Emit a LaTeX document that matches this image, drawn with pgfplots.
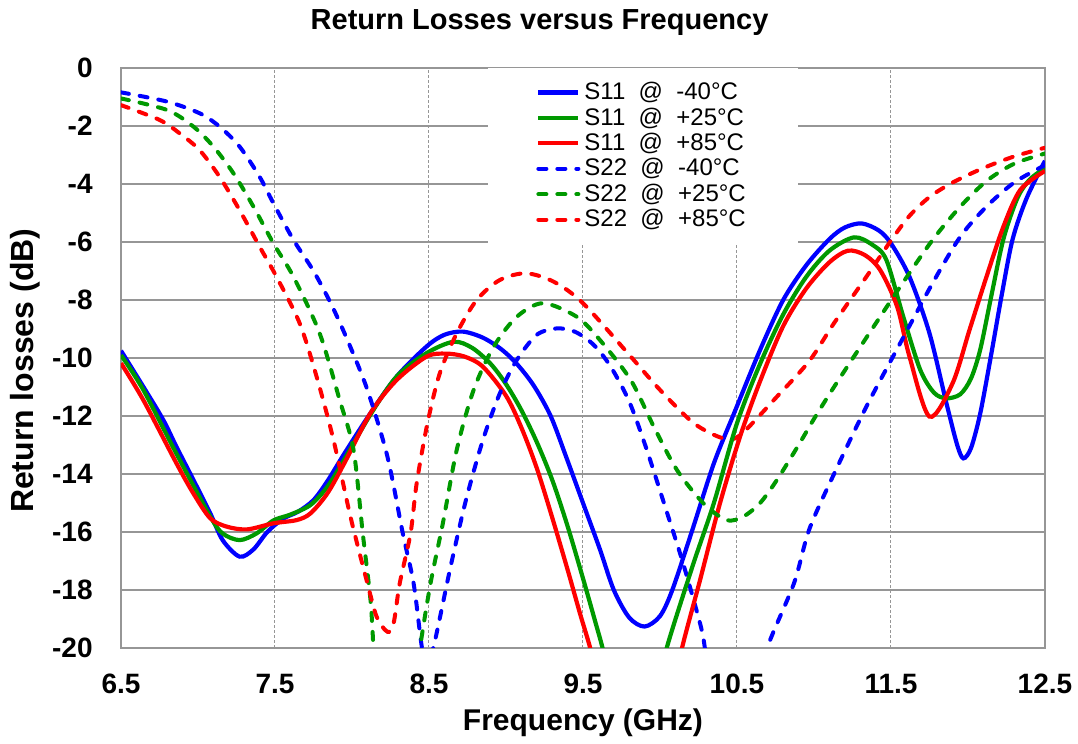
\documentclass[border=0pt]{standalone}
\usepackage{fontspec}
\setmainfont{Liberation Sans}
\usepackage{pgfplots}
\pgfplotsset{compat=1.18}

\definecolor{cblue}{RGB}{0,0,255}
\definecolor{cgreen}{RGB}{0,153,0}
\definecolor{cred}{RGB}{255,0,0}
\definecolor{gridgray}{RGB}{150,150,150}

\pgfplotsset{
  s11/.style={line width=2.1pt, smooth, no markers},
  s22/.style={line width=2.0pt, smooth, no markers, line cap=round, dash pattern=on 4pt off 5.5pt},
}

\begin{document}
\begin{tikzpicture}
\path[use as bounding box] (-60.5pt,-48pt) rectangle (478.5pt,324pt);
\begin{axis}[
  scale only axis,
  width=462pt, height=290pt,
  xmin=6.5, xmax=12.5, ymin=-20, ymax=0,
  xtick={6.5,7.5,8.5,9.5,10.5,11.5,12.5},
  xticklabels={6.5,7.5,8.5,9.5,10.5,11.5,12.5},
  ytick={-20,-18,-16,-14,-12,-10,-8,-6,-4,-2,0},
  yticklabels={-20,-18,-16,-14,-12,-10,-8,-6,-4,-2,0},
  xmajorgrids, ymajorgrids,
  x grid style={gridgray, line width=0.5pt, dash pattern=on 1.5pt off 1pt},
  y grid style={gridgray, line width=0.8pt},
  axis line style={gridgray, line width=0.8pt},
  tick style={gridgray},
  major tick length=0pt,
  ticklabel style={font=\bfseries\fontsize{14}{16}\selectfont, inner sep=0pt},
  xticklabel style={anchor=base, yshift=-23pt},
  yticklabel style={anchor=east, xshift=-14pt},
  title={Return Losses versus Frequency},
  title style={at={(axis description cs:0.453,1.045)}, anchor=base,
    font=\bfseries\fontsize{14.5}{16}\selectfont},
  xlabel={Frequency (GHz)},
  xlabel style={at={(axis description cs:0.5,-0.1414)}, anchor=base,
    font=\bfseries\fontsize{15}{17}\selectfont},
  ylabel={Return losses (dB)},
  ylabel style={at={(axis description cs:-0.0942,0.478)}, anchor=base,
    font=\bfseries\fontsize{16}{18}\selectfont},
  legend cell align=left,
  legend image code/.code={\draw[#1] (0pt,0pt) -- (20pt,0pt);},
  legend style={at={(axis description cs:0.565,1)}, anchor=north,
    draw=none, fill=white, inner xsep=24pt, inner ysep=5pt,
    font=\fontsize{12}{13}\selectfont, row sep=-1.5pt},
]

% S11 @ -40C
\addplot[s11, cblue] coordinates {
  (6.5,-9.75) (6.645,-10.99) (6.775,-12.14) (6.86,-13.06) (6.97,-14.2)
  (7.08,-15.36) (7.16,-16.28) (7.27,-16.85) (7.36,-16.6) (7.45,-16.0)
  (7.55,-15.55) (7.65,-15.3) (7.75,-14.9) (7.84,-14.25) (7.95,-13.3)
  (8.12,-11.9) (8.29,-10.64) (8.485,-9.6) (8.6,-9.2) (8.72,-9.09)
  (8.85,-9.3) (8.97,-9.7) (9.07,-10.2) (9.18,-10.95) (9.29,-12.0)
  (9.39,-13.4) (9.5,-15.0) (9.61,-16.6) (9.70,-18.0) (9.8,-18.95)
  (9.90,-19.26) (10.0,-18.9) (10.08,-18.0) (10.21,-15.93) (10.35,-13.63)
  (10.49,-11.79) (10.65,-9.72) (10.8,-8.0) (10.95,-6.8) (11.1,-5.9)
  (11.2,-5.5) (11.31,-5.36) (11.42,-5.6) (11.5,-6.05) (11.62,-7.2)
  (11.75,-9.15) (11.86,-11.56) (11.93,-13.0) (11.97,-13.46) (12.02,-13.1)
  (12.08,-11.9) (12.15,-9.9) (12.22,-7.8) (12.29,-5.9) (12.38,-4.5)
  (12.5,-3.2)
};
\addlegendentry{S11\ \ @\ \ -40°C}

% S11 @ +25C
\addplot[s11, cgreen] coordinates {
  (6.5,-9.9) (6.645,-11.1) (6.86,-13.3) (7.08,-15.47) (7.16,-16.05)
  (7.27,-16.28) (7.38,-16.05) (7.49,-15.6) (7.6,-15.4) (7.73,-15.07)
  (7.84,-14.44) (7.95,-13.5) (8.12,-11.95) (8.29,-10.64) (8.485,-9.83)
  (8.66,-9.44) (8.78,-9.65) (8.9,-10.2) (9.0,-10.9) (9.1,-11.8)
  (9.2,-12.9) (9.3,-14.2) (9.4,-15.8) (9.5,-17.6) (9.58,-19.1)
  (9.63,-20.07) (9.66,-21)
};
\addlegendentry{S11\ \ @\ \ +25°C}

% S11 @ +85C
\addplot[s11, cred] coordinates {
  (6.5,-10.18) (6.645,-11.45) (6.86,-13.63) (6.97,-14.67) (7.08,-15.53)
  (7.19,-15.82) (7.32,-15.91) (7.49,-15.7) (7.64,-15.59) (7.73,-15.36)
  (7.84,-14.67) (7.95,-13.63) (8.12,-11.9) (8.29,-10.76) (8.485,-9.95)
  (8.61,-9.85) (8.73,-9.95) (8.85,-10.3) (9.0,-11.3) (9.1,-12.4)
  (9.2,-13.8) (9.3,-15.5) (9.4,-17.3) (9.48,-18.8) (9.55,-20.07)
  (9.58,-21)
};
\addlegendentry{S11\ \ @\ \ +85°C}

% S22 @ -40C
\addplot[s22, cblue] coordinates {
  (6.5,-0.84) (6.80,-1.16) (7.01,-1.56) (7.14,-2.02) (7.27,-2.71)
  (7.40,-3.75) (7.49,-4.67) (7.62,-5.93) (7.75,-7.0) (7.87,-8.2)
  (7.98,-9.5) (8.10,-11.1) (8.23,-13.4) (8.33,-16.05) (8.40,-17.77)
  (8.45,-19.84) (8.48,-20.6) (8.53,-19.95) (8.64,-17.2) (8.74,-14.9)
  (8.85,-12.83) (8.96,-11.22) (9.07,-10.07) (9.2,-9.2) (9.33,-8.98)
  (9.45,-9.1) (9.57,-9.55) (9.68,-10.3) (9.8,-11.5) (9.91,-13.1)
  (10.04,-15.24) (10.15,-17.08) (10.26,-19.15) (10.29,-19.95) (10.31,-21)
};
\addlegendentry{S22\ \ @\ \ -40°C}

% S22 @ +25C
\addplot[s22, cgreen] coordinates {
  (6.5,-1.05) (6.80,-1.45) (6.97,-2.02) (7.10,-2.71) (7.23,-3.63)
  (7.36,-4.78) (7.49,-6.05) (7.62,-7.2) (7.79,-9.15) (7.92,-11.45)
  (8.01,-13.17) (8.07,-16.05) (8.12,-18.34) (8.14,-20.07) (8.15,-21)
};
\addlegendentry{S22\ \ @\ \ +25°C}

% S22 @ +85C
\addplot[s22, cred] coordinates {
  (6.5,-1.28) (6.75,-1.79) (6.88,-2.25) (7.01,-2.83) (7.14,-3.75)
  (7.27,-4.9) (7.40,-6.16) (7.51,-7.2) (7.66,-8.8) (7.77,-10.64)
  (7.88,-12.83) (7.99,-15.47) (8.10,-17.77) (8.16,-18.92) (8.23,-19.44)
  (8.27,-19.15) (8.31,-17.77) (8.38,-16.05) (8.42,-14.32) (8.49,-12.25)
  (8.57,-10.53) (8.68,-9.15) (8.81,-8.0) (8.96,-7.31) (9.13,-7.08)
  (9.31,-7.37) (9.50,-8.11) (9.81,-9.95) (10.0,-11.1) (10.22,-12.25)
  (10.41,-12.77) (10.52,-12.66) (10.76,-11.33) (10.97,-10.1) (11.13,-8.8)
  (11.34,-7.2) (11.5,-5.95) (11.62,-5.1) (11.75,-4.45) (11.9,-3.95)
  (12.1,-3.45) (12.3,-3.05) (12.5,-2.75)
};
\addlegendentry{S22\ \ @\ \ +85°C}

% second branches below -20 dB
\addplot[s11, cgreen, forget plot] coordinates {
  (10.02,-21) (10.04,-20.07) (10.21,-17.2) (10.35,-15.0) (10.5,-12.25)
  (10.65,-10.2) (10.8,-8.5) (10.95,-7.2) (11.1,-6.3) (11.26,-5.84)
  (11.38,-6.1) (11.47,-6.62) (11.58,-8.58) (11.69,-10.41) (11.78,-11.2)
  (11.86,-11.39) (11.95,-11.25) (12.02,-10.7) (12.08,-9.7) (12.15,-7.9)
  (12.23,-5.9) (12.32,-4.5) (12.40,-3.85) (12.5,-3.45)
};
\addplot[s11, cred, forget plot] coordinates {
  (10.12,-21) (10.14,-20.07) (10.26,-17.66) (10.39,-15.0) (10.52,-12.71)
  (10.65,-10.8) (10.8,-8.9) (10.95,-7.6) (11.1,-6.7) (11.22,-6.3)
  (11.33,-6.45) (11.43,-6.97) (11.54,-8.23) (11.62,-9.95) (11.75,-12.02)
  (11.9,-10.87) (12.01,-9.03) (12.12,-7.2) (12.23,-5.47) (12.34,-4.2)
  (12.5,-3.55)
};
\addplot[s22, cblue, forget plot] coordinates {
  (10.68,-21) (10.70,-19.95) (10.87,-17.77) (10.97,-15.9) (11.13,-14.0)
  (11.34,-11.68) (11.56,-9.49) (11.77,-7.42) (11.95,-5.82) (12.12,-4.78)
  (12.3,-3.95) (12.5,-3.35)
};
\addplot[s22, cgreen, forget plot] coordinates {
  (8.43,-21) (8.44,-20.07) (8.51,-17.77) (8.59,-15.7) (8.68,-13.17)
  (8.79,-11.1) (8.92,-9.61) (9.07,-8.58) (9.24,-8.11) (9.46,-8.58)
  (9.61,-9.38) (9.81,-10.76) (9.96,-12.37) (10.11,-13.86) (10.28,-15.0)
  (10.43,-15.59) (10.54,-15.47) (10.65,-15.0) (10.76,-14.2) (10.9,-13.0)
  (11.0,-12.1) (11.13,-11.0) (11.34,-9.3) (11.56,-7.54) (11.77,-5.93)
  (11.95,-4.78) (12.12,-3.9) (12.3,-3.3) (12.5,-2.95)
};

\end{axis}
\end{tikzpicture}
\end{document}
